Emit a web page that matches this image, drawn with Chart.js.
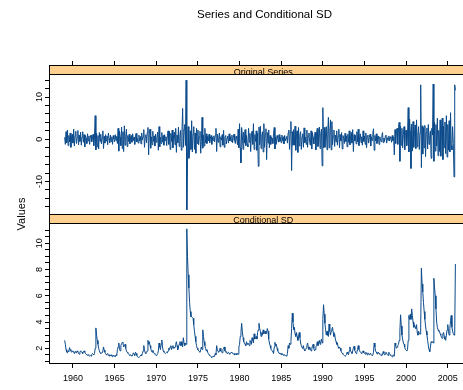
<!DOCTYPE html>
<html><head><meta charset="utf-8">
<script src="https://cdn.jsdelivr.net/npm/chart.js@4.4.1/dist/chart.umd.min.js"></script>
<style>
html,body{margin:0;padding:0;background:#fff;overflow:hidden;width:463px;height:390px}
canvas{position:absolute;left:0;top:0}
</style></head><body>
<canvas id="c1" width="480" height="390" style="width:480px;height:390px"></canvas>
<canvas id="c2" width="480" height="390" style="width:480px;height:390px"></canvas>
<script>
// ---- data (monthly, Jan 1959 .. Dec 2005) ----
const startYear = 1959;
const series = [
 0.5,-1.2,1.8,-0.8,2.2,-1.5,0.9,-0.6,1.5,-1.9,0.7,1.2,      // 1959
 -0.9,2.4,-1.6,0.8,1.9,-1.0,0.4,2.1,-1.3,1.0,-0.5,1.7,      // 1960
 -1.4,0.6,1.8,-0.7,1.1,-1.8,0.9,0.2,-1.0,1.3,-0.4,0.8,      // 1961
 -1.2,0.5,1.0,-0.6,0.3,1.2,-1.5,0.8,5.6,-2.5,1.4,-1.8,      // 1962
 0.9,-2.3,1.6,-0.5,1.2,-1.1,0.3,2.0,-2.2,0.7,-0.9,1.1,      // 1963
 -0.4,0.8,-1.3,1.5,0.2,-0.8,1.0,-0.5,0.6,-1.2,0.9,0.1,      // 1964
 -0.6,1.1,-0.3,0.7,-1.0,2.6,-2.8,1.9,0.5,-1.5,2.9,-2.2,     // 1965
 1.8,-2.9,3.2,-1.4,0.6,2.4,-1.7,0.9,-0.5,1.2,-1.1,0.4,      // 1966
 0.9,-0.7,1.3,-0.3,0.5,-1.2,0.8,1.4,-0.6,0.2,-0.9,1.0,      // 1967
 -0.4,0.7,-1.1,1.5,-0.2,0.6,2.3,-1.9,0.4,1.1,-0.8,1.6,      // 1968
 2.8,-3.7,1.5,2.4,-2.1,0.6,-1.3,1.9,-0.5,0.8,-1.6,1.2,      // 1969
 -0.7,0.4,1.7,-2.6,3.0,-1.8,0.5,-1.0,1.6,-0.6,0.9,-1.4,     // 1970
 1.1,-0.3,0.6,-1.5,0.8,2.0,-1.2,1.9,-2.4,1.4,-0.5,2.2,      // 1971
 -2.0,0.9,1.7,-1.3,2.6,-3.1,1.0,-0.8,2.9,-1.7,0.6,2.1,      // 1972
 -2.6,1.6,7.3,-1.9,2.4,3.5,-1.5,14.0,-16.7,-5.4,3.0,-4.5,   // 1973
 -3.2,2.0,-2.4,4.4,-3.0,1.2,3.0,-2.4,1.5,-3.3,2.6,-1.0,     // 1974
 2.2,-1.3,0.6,1.9,-3.3,-0.5,5.2,-2.1,1.0,-1.6,2.6,-0.8,     // 1975
 1.3,-1.0,0.7,-0.4,1.2,-0.8,0.3,0.9,-1.2,0.5,-0.3,0.8,      // 1976
 -0.6,1.0,2.6,-2.9,1.2,-0.7,0.4,1.5,-1.8,0.6,-0.2,1.1,      // 1977
 -1.4,2.1,-1.9,0.5,0.9,-1.1,0.3,0.8,-0.9,1.3,-0.4,0.6,      // 1978
 -0.5,1.0,-0.8,0.4,1.2,-0.3,-1.0,0.7,0.2,-1.3,2.4,-2.0,     // 1979
 3.7,-2.0,-5.6,2.8,1.0,-2.4,1.7,-0.9,2.3,-1.5,0.9,-1.2,     // 1980
 -1.8,2.6,-0.7,1.4,-2.9,0.8,1.9,-1.2,3.7,-2.4,1.1,-0.5,     // 1981
 2.0,-2.6,1.4,-6.4,2.9,-1.3,3.1,-2.2,0.7,1.8,-3.0,3.7,      // 1982
 -1.9,1.2,2.5,-4.8,1.6,-0.9,2.2,-2.0,0.9,-1.2,0.5,0.2,      // 1983
 -1.0,1.4,2.8,-2.3,0.6,-1.2,0.9,0.3,-0.7,1.1,-0.5,0.4,      // 1984
 -0.8,1.0,-0.3,0.6,-1.1,0.9,-0.4,0.2,0.7,-0.9,1.5,2.2,      // 1985
 -2.4,1.6,4.2,-7.4,1.8,-1.4,2.3,-1.4,3.1,-2.6,1.2,2.0,      // 1986
 -3.1,2.8,-1.6,0.9,1.8,-2.4,0.6,1.3,-1.9,2.7,-0.8,0.5,      // 1987
 -1.2,2.2,-1.9,0.8,1.5,-0.6,-1.4,2.0,-2.3,1.6,0.4,-1.1,     // 1988
 0.9,1.7,-2.5,1.4,2.6,-1.7,0.5,2.9,-2.2,1.3,2.4,-6.3,       // 1989
 7.5,-2.0,2.8,-1.9,1.4,3.0,-2.5,1.2,5.2,-2.0,1.5,4.6,       // 1990
 -2.5,4.2,-1.3,0.8,2.2,-1.7,1.0,-0.6,2.0,-1.4,0.7,2.4,      // 1991
 -2.0,1.1,-0.4,1.6,-2.3,0.9,0.3,-1.0,1.4,-0.5,0.8,-1.8,     // 1992
 1.2,-0.7,2.0,-1.3,0.5,1.6,-0.9,2.3,-2.9,1.1,-0.4,0.9,      // 1993
 -1.1,1.8,-0.6,2.4,-1.5,0.4,1.3,-0.8,0.6,-1.4,2.0,-0.5,     // 1994
 0.8,-1.2,1.5,-2.0,0.7,1.0,-0.9,0.4,1.2,-1.6,0.6,-0.3,      // 1995
 1.4,2.5,-2.6,0.9,-0.4,1.3,-1.0,0.5,0.8,-1.2,0.6,0.2,       // 1996
 -0.6,0.9,1.6,-0.8,0.3,-0.5,0.7,1.0,-0.9,0.4,-0.2,0.8,      // 1997
 -0.4,0.6,0.2,-0.7,0.9,-0.3,0.5,-3.7,2.3,-1.0,1.8,2.6,      // 1998
 -1.2,2.8,4.0,-5.2,3.1,-1.4,2.6,-2.0,1.1,3.0,-2.5,1.6,      // 1999
 2.2,-1.5,1.0,7.5,-3.0,4.8,2.0,-6.9,3.6,-2.8,4.2,-1.9,      // 2000
 1.3,3.4,-2.2,4.6,-1.8,1.0,3.0,-2.4,1.5,12.9,-6.7,3.2,      // 2001
 -3.5,2.8,-2.0,3.3,-4.1,1.6,2.7,-2.3,3.5,-1.2,0.9,2.0,      // 2002
 -4.5,2.6,1.0,13.1,-5.2,4.0,-2.8,3.5,-1.6,5.0,-3.9,2.1,     // 2003
 -2.9,4.6,-4.0,2.5,5.0,-4.8,3.1,-2.0,4.1,-3.4,5.6,-4.2,     // 2004
 3.5,-2.6,4.4,-3.0,6.3,-1.5,-2.5,3.0,-1.0,-8.9,12.9,11.6    // 2005
];
const condSD = [
 2.6,2.3,1.9,1.7,1.65,1.8,1.75,2.05,1.9,1.8,1.7,1.75,       // 1959
 1.8,1.7,1.6,1.75,1.7,1.65,1.8,1.75,1.6,1.55,1.7,1.8,       // 1960
 1.75,1.7,1.6,1.75,1.8,1.7,1.6,1.55,1.5,1.45,1.5,1.45,      // 1961
 1.4,1.45,1.4,1.5,1.6,1.55,1.5,1.6,2.0,3.55,3.0,2.6,        // 1962
 2.3,2.0,1.8,1.65,1.6,1.62,1.7,1.8,2.1,1.85,1.7,1.6,        // 1963
 1.5,1.55,1.6,1.45,1.5,1.4,1.45,1.5,1.4,1.35,1.45,1.4,      // 1964
 1.4,1.35,1.5,1.45,1.9,2.1,2.4,1.9,1.8,2.2,2.35,2.45,       // 1965
 2.4,2.1,2.2,2.3,2.0,1.8,1.7,1.65,1.55,1.5,1.45,1.5,        // 1966
 1.45,1.4,1.5,1.65,1.55,1.45,1.7,1.6,1.45,1.35,1.3,1.3,     // 1967
 1.35,1.4,1.5,1.45,1.6,1.8,2.2,1.9,1.65,1.6,1.7,1.8,        // 1968
 2.6,2.3,2.5,2.2,2.0,1.8,1.7,1.85,1.7,1.6,1.55,1.5,         // 1969
 1.45,1.5,1.6,1.8,2.4,2.1,1.9,2.3,2.63,2.1,1.8,1.7,         // 1970
 1.65,1.6,1.6,1.7,1.65,1.8,2.0,1.9,2.1,2.2,1.9,2.05,        // 1971
 2.2,2.0,2.0,2.1,2.3,2.5,2.2,1.9,2.1,2.3,2.5,2.2,           // 1972
 2.5,2.2,2.1,2.8,2.4,2.2,2.4,2.3,11.1,9.0,7.6,6.6,          // 1973
 5.5,4.8,4.4,4.4,4.35,4.28,3.8,3.3,2.9,2.5,2.2,2.0,         // 1974
 1.9,1.8,1.75,1.7,1.9,2.1,1.9,3.4,2.9,2.5,2.2,2.0,          // 1975
 1.8,1.9,1.7,1.6,1.5,1.45,1.4,1.35,1.3,1.35,1.4,1.35,       // 1976
 1.4,1.6,1.5,2.2,1.9,1.75,1.7,1.8,2.0,1.8,1.7,1.65,         // 1977
 1.9,2.0,2.1,1.8,1.7,1.75,1.6,1.65,1.7,1.6,1.55,1.6,        // 1978
 1.7,1.65,1.6,1.55,1.6,1.5,1.55,1.6,1.5,1.6,1.55,2.1,       // 1979
 2.3,2.9,3.2,3.9,3.3,2.8,2.5,2.4,2.3,2.2,2.5,2.3,           // 1980
 2.4,2.3,2.2,2.6,2.5,2.3,2.8,2.6,2.4,3.1,2.7,2.8,           // 1981
 2.9,2.7,3.2,3.4,3.9,3.5,3.3,2.9,3.2,3.0,3.4,3.1,           // 1982
 3.2,3.3,3.1,3.2,3.5,3.3,2.7,2.4,2.2,2.0,1.85,1.8,          // 1983
 1.75,1.6,2.1,2.45,2.2,2.3,2.0,1.8,1.7,1.6,1.65,1.55,       // 1984
 1.6,1.5,1.55,1.5,1.45,1.5,1.45,1.42,1.4,1.6,2.2,2.0,       // 1985
 2.4,2.3,2.5,3.5,4.67,4.0,3.4,3.6,3.1,2.9,3.2,2.9,          // 1986
 2.6,2.9,3.2,2.8,2.4,2.2,2.05,2.0,2.2,1.9,1.8,1.9,          // 1987
 2.0,2.2,2.4,2.1,1.9,2.1,2.0,1.8,1.9,2.2,2.3,2.0,           // 1988
 1.8,1.9,2.1,2.2,2.5,2.2,2.4,2.6,2.3,2.5,2.7,2.4,           // 1989
 4.2,5.32,4.6,3.9,3.4,3.0,3.3,3.0,2.9,3.85,3.3,3.0,         // 1990
 3.3,3.47,3.6,3.2,2.9,3.1,2.7,2.5,2.3,2.4,2.1,2.0,          // 1991
 2.1,2.0,1.8,1.7,1.6,1.55,1.5,1.45,1.4,1.45,1.5,1.7,        // 1992
 1.6,1.5,1.8,2.1,1.8,1.7,1.6,1.8,2.0,2.15,1.85,1.7,         // 1993
 1.6,1.7,1.9,2.2,1.9,1.8,1.7,1.65,1.6,1.7,1.8,1.65,         // 1994
 1.6,1.55,1.7,1.6,1.5,1.65,1.55,1.5,1.6,1.55,1.5,1.45,      // 1995
 1.5,1.7,2.4,2.1,1.8,1.7,1.6,1.55,1.7,1.6,1.55,1.5,         // 1996
 1.45,1.55,1.5,1.75,1.6,1.5,1.55,1.7,1.6,1.5,1.45,1.7,      // 1997
 1.6,1.5,1.45,1.4,1.35,1.5,1.45,1.4,2.4,2.2,2.0,2.1,        // 1998
 2.2,2.3,2.6,3.3,4.55,3.7,3.0,2.7,2.4,2.3,2.1,1.9,          // 1999
 1.85,1.8,1.9,2.6,4.5,4.2,4.6,4.2,5.0,4.5,4.0,3.6,          // 2000
 3.8,3.6,3.5,3.8,3.2,3.0,3.3,3.1,3.08,3.6,8.1,6.9,          // 2001
 6.3,5.5,4.8,4.2,3.7,3.3,3.0,2.6,2.2,1.9,1.74,2.1,          // 2002
 2.5,2.45,2.5,2.4,7.33,6.6,6.0,5.0,4.0,3.6,3.4,3.3,         // 2003
 3.3,3.1,3.0,2.8,2.75,3.1,3.2,2.9,2.7,2.6,3.0,3.4,          // 2004
 3.8,3.3,3.0,3.5,4.1,4.5,3.6,3.3,3.1,3.0,3.1,8.42           // 2005
];
const xTicks = [1960,1965,1970,1975,1980,1985,1990,1995,2000,2005];
const topYTicks = [-16,-14,-12,-10,-8,-6,-4,-2,0,2,4,6,8,10,12,14];
const topYLabels = [-10,0,10];
const botYTicks = [1,1.5,2,2.5,3,3.5,4,4.5,5,5.5,6,6.5,7,7.5,8,8.5,9,9.5,10,10.5,11];
const botYLabels = [2,4,6,8,10];
const panelTitles = ['Original Series','Conditional SD'];
const mainTitle = 'Series and Conditional SD';
const yAxisTitle = 'Values';

// ---- styling ----
const FONT = '"Liberation Sans", Arial, sans-serif';
const LINE = '#0b4a8b';
const STRIP = '#ffd08f';
const XMIN = 1957.12, XMAX = 2007.79;

const pts = arr => arr.map((v, i) => ({x: startYear + i / 12, y: v}));

function yLabelsPlugin(labels) {
  return {
    id: 'ylab' + labels.length,
    afterDraw(chart) {
      const ctx = chart.ctx, s = chart.scales.y;
      ctx.save();
      ctx.fillStyle = '#000';
      ctx.font = '9px ' + FONT;
      ctx.textAlign = 'center';
      ctx.textBaseline = 'alphabetic';
      labels.forEach(v => {
        const y = s.getPixelForValue(v);
        ctx.save();
        ctx.translate(42, y);
        ctx.rotate(-Math.PI / 2);
        ctx.fillText(String(v), 0, 0);
        ctx.restore();
      });
      ctx.restore();
    }
  };
}

function strip(ctx, top, bottom, text, textBase) {
  ctx.save();
  ctx.fillStyle = STRIP;
  ctx.fillRect(49, top, 480 - 49, bottom - top);
  ctx.beginPath();
  ctx.rect(50, top + 1, 480, bottom - top - 2);
  ctx.clip();
  ctx.fillStyle = '#000';
  ctx.font = '9px ' + FONT;
  ctx.textAlign = 'center';
  ctx.textBaseline = 'alphabetic';
  ctx.fillText(text, 263.3, textBase);
  ctx.restore();
}

function hline(ctx, x0, x1, y) { ctx.beginPath(); ctx.moveTo(x0, y); ctx.lineTo(x1, y); ctx.stroke(); }
function vline(ctx, x, y0, y1) { ctx.beginPath(); ctx.moveTo(x, y0); ctx.lineTo(x, y1); ctx.stroke(); }

const topDeco = {
  id: 'topDeco',
  afterDraw(chart) {
    const ctx = chart.ctx;
    strip(ctx, 65, 75, panelTitles[0], 75.3);
    ctx.save();
    ctx.strokeStyle = '#000';
    ctx.lineWidth = 1;
    hline(ctx, 49, 480, 65.5);
    hline(ctx, 49, 480, 74.5);
    hline(ctx, 49, 480, 214.5);
    vline(ctx, 49.5, 65, 215);
    ctx.fillStyle = '#000';
    ctx.font = '11.5px ' + FONT;
    ctx.textAlign = 'center';
    ctx.textBaseline = 'alphabetic';
    ctx.fillText(mainTitle, 264.5, 18.3);
    ctx.font = '11px ' + FONT;
    ctx.translate(25, 214);
    ctx.rotate(-Math.PI / 2);
    ctx.fillText(yAxisTitle, 0, 0);
    ctx.restore();
  }
};

const botDeco = {
  id: 'botDeco',
  afterDraw(chart) {
    const ctx = chart.ctx;
    strip(ctx, 214, 224, panelTitles[1], 223.3);
    ctx.save();
    ctx.strokeStyle = '#000';
    ctx.lineWidth = 1;
    hline(ctx, 49, 480, 214.5);
    hline(ctx, 49, 480, 223.5);
    hline(ctx, 49, 480, 363.5);
    vline(ctx, 49.5, 214, 364);
    ctx.restore();
  }
};

function tickList(arr) { return s => { s.ticks = arr.map(v => ({value: v})); }; }

const common = {
  responsive: false,
  animation: false,
  devicePixelRatio: 1,
  events: [],
  plugins: {legend: {display: false}, tooltip: {enabled: false}, title: {display: false}},
  elements: {point: {radius: 0}, line: {tension: 0}}
};

new Chart(document.getElementById('c1'), {
  type: 'line',
  data: {datasets: [{data: pts(series), borderColor: LINE, borderWidth: 1, fill: false}]},
  options: Object.assign({}, common, {
    layout: {padding: {left: 0, top: 61, right: 9, bottom: 175}},
    scales: {
      x: {type: 'linear', position: 'top', min: XMIN, max: XMAX,
          afterBuildTicks: tickList(xTicks),
          afterFit: s => { s.height = 14; },
          grid: {drawOnChartArea: false, drawTicks: true, tickLength: 14, color: '#000', lineWidth: 1},
          border: {display: false},
          ticks: {display: false}},
      y: {type: 'linear', position: 'left', min: -17.93, max: 15.23,
          afterBuildTicks: tickList(topYTicks),
          afterFit: s => { s.width = 49; },
          grid: {drawOnChartArea: false, drawTicks: true, tickLength: 4, color: '#000', lineWidth: 1},
          border: {display: false},
          ticks: {display: false}}
    }
  }),
  plugins: [topDeco, yLabelsPlugin(topYLabels)]
});

new Chart(document.getElementById('c2'), {
  type: 'line',
  data: {datasets: [{data: pts(condSD), borderColor: LINE, borderWidth: 1, fill: false}]},
  options: Object.assign({}, common, {
    layout: {padding: {left: 0, top: 224, right: 9, bottom: 0}},
    scales: {
      x: {type: 'linear', position: 'bottom', min: XMIN, max: XMAX,
          afterBuildTicks: tickList(xTicks),
          afterFit: s => { s.height = 26; },
          grid: {drawOnChartArea: false, drawTicks: true, tickLength: 4, color: '#000', lineWidth: 1},
          border: {display: false},
          ticks: {display: true, autoSkip: false, maxRotation: 0, minRotation: 0, padding: 5,
                  color: '#000', font: {family: FONT, size: 9},
                  callback: v => String(v)}},
      y: {type: 'linear', position: 'left', min: 0.80, max: 11.47,
          afterBuildTicks: tickList(botYTicks),
          afterFit: s => { s.width = 49; },
          grid: {drawOnChartArea: false, drawTicks: true, tickLength: 4, color: '#000', lineWidth: 1},
          border: {display: false},
          ticks: {display: false}}
    }
  }),
  plugins: [botDeco, yLabelsPlugin(botYLabels)]
});
</script>
</body></html>
